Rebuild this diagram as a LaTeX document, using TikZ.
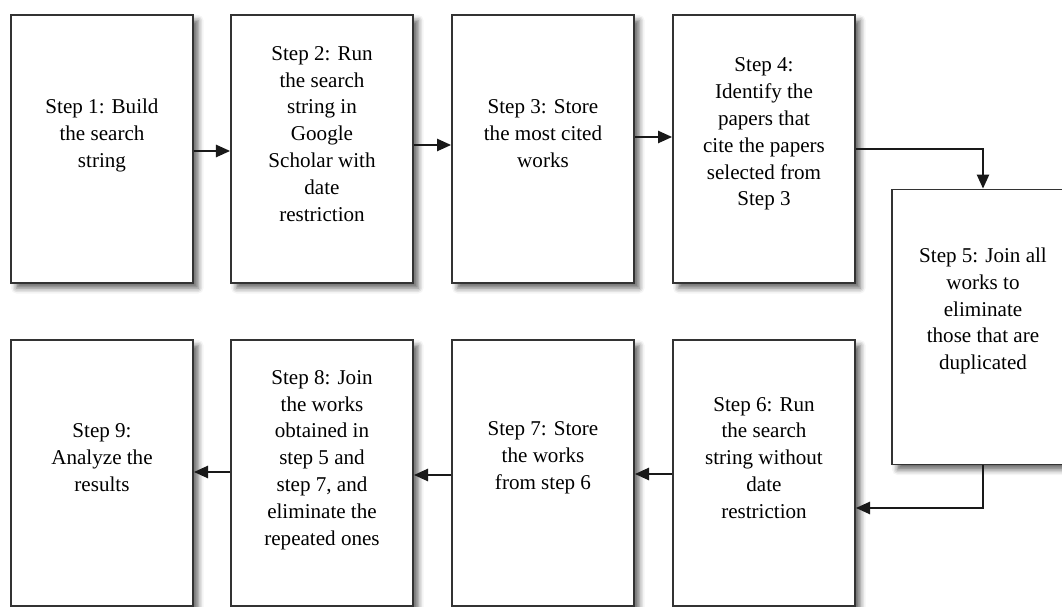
\documentclass[tikz,border=0pt]{standalone}
\usepackage{fontspec}
\setmainfont{Liberation Serif}
\usepackage{tikz}
\usetikzlibrary{arrows.meta,positioning,calc,shadows.blur}

\tikzset{
  stepbox/.style={draw=black!80, line width=1.1pt, fill=white,
    minimum width=3.64cm, inner sep=0pt,
    blur shadow={shadow xshift=3pt, shadow yshift=-3pt,
      shadow blur radius=3pt, shadow opacity=60}},
  steptext/.style={align=center, font=\fontsize{12}{15.3}\selectfont, inner sep=0pt},
  flow/.style={-{Triangle[length=8pt,width=7pt]}, line width=1pt, black!90}
}

\begin{document}
\begin{tikzpicture}[x=0.02cm,y=-0.02cm]
  \useasboundingbox (0,0) rectangle (1062,607);
  \clip (0,0) rectangle (1062,607);

  % top row
  \node[stepbox, minimum height=5.36cm] (step1) at (102,149) {};
  \node[stepbox, minimum height=5.36cm] (step2) at (322,149) {};
  \node[stepbox, minimum height=5.36cm] (step3) at (543,149) {};
  \node[stepbox, minimum height=5.36cm] (step4) at (764,149) {};
  % right column
  \node[stepbox, minimum height=5.5cm] (step5) at (983,327) {};
  % bottom row
  \node[stepbox, minimum height=5.32cm] (step6) at (764,473) {};
  \node[stepbox, minimum height=5.32cm] (step7) at (543,473) {};
  \node[stepbox, minimum height=5.32cm] (step8) at (322,473) {};
  \node[stepbox, minimum height=5.32cm] (step9) at (102,473) {};

  % texts
  \node[steptext] (text1) at ([yshift=0.27cm]step1.center) {Step 1: Build\\the search\\string};
  \node[steptext] (text2) at ([yshift=0.3cm]step2.center) {Step 2: Run\\the search\\string in\\Google\\Scholar with\\date\\restriction};
  \node[steptext] (text3) at ([yshift=0.3cm]step3.center) {Step 3: Store\\the most cited\\works};
  \node[steptext] (text4) at ([yshift=0.3cm]step4.center) {Step 4:\\Identify the\\papers that\\cite the papers\\selected from\\Step 3};
  \node[steptext] (text5) at ([yshift=0.32cm]step5.center) {Step 5: Join all\\works to\\eliminate\\those that are\\duplicated};
  \node[steptext] (text6) at ([yshift=0.3cm]step6.center) {Step 6: Run\\the search\\string without\\date\\restriction};
  \node[steptext] (text7) at ([yshift=0.3cm]step7.center) {Step 7: Store\\the works\\from step 6};
  \node[steptext] (text8) at ([yshift=0.26cm]step8.center) {Step 8: Join\\the works\\obtained in\\step 5 and\\step 7, and\\eliminate the\\repeated ones};
  \node[steptext] (text9) at ([yshift=0.3cm]step9.center) {Step 9:\\Analyze the\\results};

  % connectors
  \draw[flow] ([yshift=-0.04cm]step1.east) -- ([yshift=-0.04cm]step2.west);
  \draw[flow] ([yshift=0.08cm]step2.east) -- ([yshift=0.08cm]step3.west);
  \draw[flow] ([yshift=0.24cm]step3.east) -- ([yshift=0.24cm]step4.west);
  \draw[flow] (step4.east) -| (step5.north);
  \draw[flow] (step5.south) |- ([yshift=-0.7cm]step6.east);
  \draw[flow] ([yshift=-0.02cm]step6.west) -- ([yshift=-0.02cm]step7.east);
  \draw[flow] ([yshift=-0.04cm]step7.west) -- ([yshift=-0.04cm]step8.east);
  \draw[flow] ([yshift=0.02cm]step8.west) -- ([yshift=0.02cm]step9.east);
\end{tikzpicture}
\end{document}
